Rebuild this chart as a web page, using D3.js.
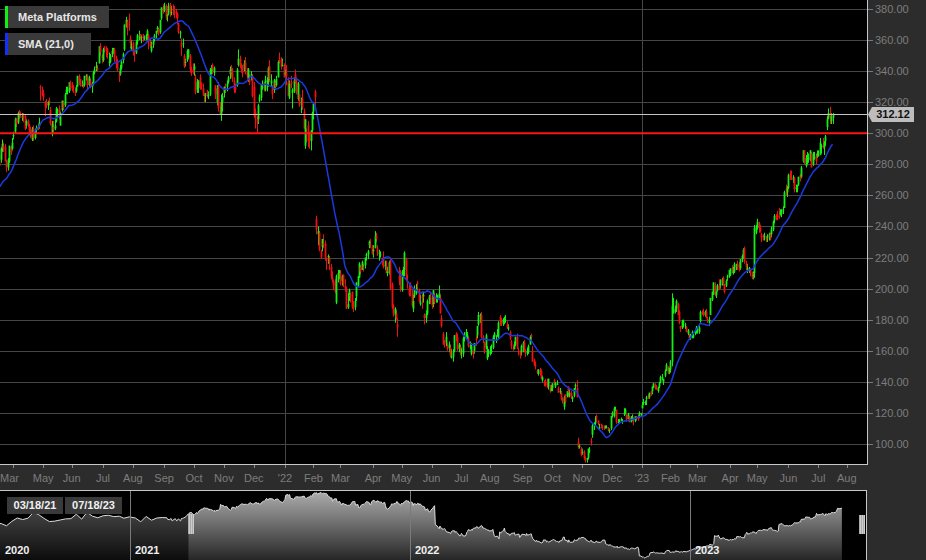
<!DOCTYPE html>
<html><head><meta charset="utf-8">
<script src="https://cdn.jsdelivr.net/npm/d3@7"></script>
<style>
html,body{margin:0;padding:0;background:#2c2c2c;}
svg{display:block;font-family:"Liberation Sans",Arial,sans-serif;}
</style></head><body>
<svg id="chart" width="926" height="560"></svg>
<script>
// ---------------- DATA ----------------
const seriesName = "Meta Platforms";
const smaLabel = "SMA (21,0)";
const smaPeriod = 21;
const alertLevel = 300;
const firstDate = "2021-02-18";          // first warm-up trading day (SMA history)
const holidays = ["2021-04-02","2021-05-31","2021-07-05","2021-09-06","2021-11-25","2021-12-24",
  "2022-01-17","2022-02-21","2022-04-15","2022-05-30","2022-06-20","2022-07-04","2022-09-05",
  "2022-11-24","2022-12-26","2023-01-02","2023-01-16","2023-02-20","2023-04-07","2023-05-29",
  "2023-06-19","2023-07-04","2023-09-04"];
const warmupCloses = [269,262,260,266,264,255,258,265,259,255,258,264,255,266,265,268,268,274,279,284];

// daily bars 03/18/21 .. 07/18/23 (one line per month)
const opens = [
286,283,290,292,291,282,278,282,291,290,
298,301,309,307,314,313,310,312,311,305,308,305,302,296,303,297,302,304,305,330,327,
326,320,319,318,321,315,300,304,303,308,314,316,305,315,320,318,326,328,327,333,
330,330,327,327,330,337,335,331,332,331,336,337,331,334,330,332,339,342,342,345,356,350,
347,356,355,354,346,346,351,352,354,348,346,338,338,342,347,354,369,372,374,361,354,
358,353,352,359,362,364,362,363,361,362,364,363,358,353,357,361,364,367,367,365,374,381,
379,382,376,377,383,378,380,379,378,377,371,365,358,358,350,346,347,349,350,341,341,
341,336,328,329,336,332,329,325,324,326,324,325,340,344,339,331,320,330,315,312,320,
326,329,330,333,338,340,339,334,330,331,344,348,343,341,341,346,340,336,335,336,337,
330,314,310,309,321,323,329,333,328,333,334,343,332,329,328,333,331,336,347,347,344,344,
338,339,333,323,333,326,327,338,333,322,325,320,322,314,292,301,305,300,295,302,
314,327,245,235,236,224,227,229,229,219,221,220,214,207,204,205,191,208,209,
210,205,209,202,200,188,195,196,198,188,188,195,202,207,214,212,214,215,221,222,228,229,227,
224,226,234,226,223,222,219,220,215,215,210,210,218,203,189,183,184,177,208,201,
199,211,212,219,205,200,202,197,187,195,197,204,199,190,195,195,183,181,184,193,195,
194,190,196,194,193,194,194,181,171,165,165,163,162,162,156,156,160,171,169,161,162,
160,158,168,170,168,168,163,158,160,160,168,170,177,182,183,169,165,162,155,159,
158,159,162,169,167,170,169,182,180,178,178,180,177,175,172,166,162,161,164,169,160,160,159,
162,165,160,158,159,164,170,160,154,151,147,145,147,147,141,140,139,140,137,138,134,
136,141,137,138,136,134,133,129,124,132,131,137,131,133,129,131,137,136,101,98,97,
95,95,91,90,91,96,102,106,112,113,118,115,110,113,112,111,110,111,110,109,110,
118,118,122,122,114,115,115,115,119,120,119,116,118,114,117,116,115,118,117,117,119,
123,127,127,129,131,130,134,134,136,138,137,134,137,140,143,140,144,147,150,146,
148,153,184,185,187,190,185,176,175,178,177,175,171,170,168,171,169,172,172,
174,172,179,185,185,183,185,181,178,183,193,196,202,196,199,202,202,204,207,203,202,207,208,
209,213,210,211,214,215,216,213,219,222,226,216,213,213,212,210,208,210,236,
239,242,239,235,234,233,233,233,233,235,235,238,244,247,247,247,248,248,251,252,264,262,
265,274,272,270,271,264,265,267,273,272,282,289,279,285,283,283,287,280,284,285,285,
286,286,291,292,291,295,304,310,313,308,310];
const highs = [
287,291,296,294,293,283,284,292,292,297,
301,310,310,314,315,314,313,313,312,309,309,306,304,304,305,303,305,306,310,331,330,
328,321,322,321,323,317,308,308,309,317,316,318,314,321,321,326,330,330,333,334,
333,331,329,331,337,338,335,334,332,337,338,338,337,335,333,340,343,346,344,356,358,351,
355,356,356,355,352,351,355,355,355,350,348,340,344,347,352,370,375,373,377,363,360,
359,354,360,364,366,364,363,364,363,364,367,364,361,359,361,364,366,369,368,373,381,383,
384,383,377,384,384,382,383,382,380,378,371,366,361,361,351,348,354,354,351,343,345,
345,338,335,334,338,333,332,326,326,328,327,342,344,345,343,331,331,333,320,325,326,
330,332,334,337,343,344,342,336,332,342,354,350,345,344,347,349,342,342,338,340,338,
333,316,311,319,325,331,334,333,337,336,343,347,338,331,335,334,337,347,352,349,348,345,
341,344,336,334,337,329,336,341,336,333,325,323,328,316,309,303,308,301,302,314,
320,328,247,240,237,225,232,235,231,220,222,221,216,211,206,206,209,212,212,
212,209,209,206,201,197,200,197,198,192,194,204,208,217,215,218,216,220,223,225,231,232,228,
228,237,236,228,225,224,220,224,218,218,214,218,219,204,190,188,186,181,214,212,
212,214,224,220,209,203,204,199,196,202,203,205,200,196,197,198,184,186,193,196,197,
196,199,197,197,196,202,196,183,172,167,172,165,166,164,161,161,170,172,171,165,164,
162,169,172,174,172,169,166,165,160,165,170,176,185,184,185,170,166,171,163,161,
163,164,170,172,170,174,179,183,181,181,182,183,179,177,173,167,164,166,169,171,162,160,164,
166,167,161,162,164,170,171,163,155,153,148,148,149,148,144,141,142,142,142,138,138,
139,142,140,141,137,136,134,130,131,132,134,137,135,134,131,136,139,141,104,100,98,
97,96,92,91,97,98,104,113,114,118,119,115,113,113,112,112,112,112,111,110,118,
121,124,124,122,116,116,117,116,123,123,119,120,118,118,119,117,118,118,119,121,120,
127,129,128,131,132,133,134,137,139,139,138,137,140,144,145,142,148,152,150,149,
154,197,194,189,193,191,186,176,180,180,178,176,174,171,171,173,171,173,176,
175,176,186,186,187,186,187,182,182,194,198,204,204,199,203,206,206,207,208,203,206,209,212,
213,215,214,217,216,218,217,219,222,226,227,218,216,214,213,211,211,241,241,
245,243,241,236,235,236,234,235,236,236,240,244,248,248,250,252,251,251,253,263,267,266,
274,276,276,273,272,267,267,272,274,279,289,289,286,288,287,289,288,288,288,287,289,
289,297,293,297,295,299,311,316,317,313,313];
const lows = [
277,281,288,288,282,275,276,281,286,289,
296,300,304,306,309,310,308,307,302,303,304,300,297,295,295,296,300,302,303,321,324,
321,311,316,315,318,305,298,301,302,307,310,309,305,314,315,317,325,325,326,328,
327,326,324,326,330,331,330,330,329,330,334,328,330,329,326,331,338,340,340,345,350,345,
346,352,349,348,343,345,349,351,346,342,340,333,337,341,345,353,368,363,366,355,353,
350,346,351,357,360,360,358,359,360,360,360,354,355,352,355,359,361,365,363,364,373,377,
378,373,372,376,375,376,376,374,374,370,364,361,350,355,342,343,346,348,339,337,338,
337,325,326,326,328,328,324,320,320,323,322,324,338,338,337,322,318,314,312,308,314,
323,326,327,332,335,336,333,326,326,330,343,342,339,336,340,338,335,333,331,334,323,
310,303,300,306,320,321,328,327,327,327,330,333,330,322,326,328,330,336,345,341,343,336,
337,331,324,322,329,316,326,332,325,321,317,313,315,303,290,294,291,290,289,300,
309,318,235,228,224,219,224,226,218,212,216,212,206,204,199,197,190,204,206,
202,202,201,198,187,187,192,191,187,185,186,192,201,207,209,212,211,213,218,219,226,226,222,
220,226,230,221,218,220,215,213,212,210,208,209,199,187,182,178,180,169,202,198,
198,207,208,205,200,195,195,188,185,194,196,199,191,189,187,191,177,178,183,190,190,
187,188,190,191,191,194,184,175,164,162,163,160,159,156,155,153,159,166,160,159,157,
155,156,166,169,167,162,161,157,155,158,163,168,176,178,168,165,158,161,154,156,
157,158,161,167,165,169,168,176,176,176,177,178,174,173,167,161,160,161,163,161,157,155,157,
159,159,156,157,158,164,167,153,150,148,145,144,144,142,140,137,137,136,135,133,134,
134,138,136,138,133,132,128,126,122,126,130,130,130,129,127,130,135,130,97,97,92,
93,90,88,88,90,94,99,104,109,112,114,112,109,110,109,109,110,110,108,107,109,
117,117,121,113,113,113,115,113,118,119,115,116,114,114,115,112,114,115,115,117,118,
123,125,125,125,129,129,131,132,136,135,135,133,136,139,141,138,143,147,145,145,
146,150,184,184,185,183,177,172,174,175,174,172,170,167,167,168,168,170,171,
171,171,178,183,182,182,181,178,176,183,192,196,195,194,198,199,200,202,202,197,201,205,207,
208,210,209,210,212,212,211,212,217,219,216,212,210,210,208,206,206,207,235,
238,236,236,230,231,231,230,230,231,231,233,237,242,244,244,245,247,246,248,252,260,259,
264,270,270,268,262,262,262,266,269,271,281,280,278,280,281,282,278,279,283,280,284,
285,286,287,290,286,292,302,309,306,306,306];
const closes = [
279,290,293,290,282,278,283,292,288,294,
299,309,306,313,313,312,311,310,303,308,306,302,298,303,297,301,303,303,307,329,325,
323,317,318,320,320,306,306,302,305,316,315,310,313,321,316,325,328,328,333,329,
329,329,326,330,337,334,331,331,331,337,337,331,336,330,332,339,341,343,341,356,352,348,
354,355,353,351,346,350,353,352,348,345,341,337,342,346,351,370,373,368,373,358,356,
352,351,359,363,363,362,362,362,362,363,366,358,356,356,359,363,366,368,364,373,381,379,
382,375,376,382,378,378,379,377,377,374,365,365,356,358,343,346,353,354,341,340,339,
343,326,333,334,329,330,325,324,325,325,325,341,342,341,342,325,329,316,312,317,324,
330,328,332,336,341,339,335,328,328,341,348,343,341,339,345,341,337,341,333,338,324,
311,310,307,318,323,331,330,330,334,334,342,335,334,325,334,330,335,346,346,343,344,336,
339,337,324,332,332,328,334,333,326,332,318,320,317,303,309,300,295,295,302,313,
319,323,238,237,225,220,232,228,220,218,221,217,208,206,202,198,208,210,211,
203,208,203,200,187,190,199,195,188,187,192,204,208,216,211,217,213,220,222,224,230,228,222,
225,234,232,223,223,222,216,214,215,210,211,217,200,188,184,187,181,175,206,200,
211,212,223,208,204,196,198,189,192,199,200,203,192,191,194,196,181,184,192,195,194,
189,199,191,194,196,197,184,176,164,164,169,161,164,157,156,159,170,169,161,164,161,
160,168,170,172,170,163,163,163,158,165,167,176,183,183,169,167,159,170,161,159,
160,160,169,171,167,170,178,178,177,180,181,180,175,175,168,163,161,163,169,162,159,157,163,
165,160,159,160,163,169,169,153,151,150,146,148,146,142,143,139,138,137,142,134,136,
139,140,139,139,133,134,129,128,130,127,134,133,133,130,130,136,138,130,98,99,93,
95,91,89,91,97,96,101,112,113,114,117,113,111,112,111,110,111,111,109,109,118,
120,123,122,114,114,115,116,115,120,122,116,119,114,117,117,115,118,117,116,120,120,
125,127,127,130,129,133,133,137,139,137,135,136,139,143,143,142,147,151,146,149,
153,189,187,186,192,183,178,174,179,179,177,172,173,168,170,172,170,172,175,
174,175,185,184,183,185,181,180,180,194,198,204,196,198,202,200,204,206,203,198,205,208,212,
213,212,211,216,215,214,212,219,221,225,217,214,213,213,210,207,209,239,240,
243,239,237,233,233,234,232,233,235,233,238,243,247,246,246,246,249,251,251,262,263,265,
273,272,271,271,264,265,265,272,271,278,289,281,284,285,284,289,278,287,285,282,287,
286,294,292,291,294,298,309,313,309,311,312.12];

const yTicks = [100,120,140,160,180,200,220,240,260,280,300,320,340,360,380];
const monthNames = ["'","Feb","Mar","Apr","May","Jun","Jul","Aug","Sep","Oct","Nov","Dec"];

// navigator history before the main window (weekly closes)
const navPreDates = ["2020-07-10","2020-07-17","2020-07-24","2020-07-31","2020-08-07","2020-08-14","2020-08-21",
  "2020-08-28","2020-09-04","2020-09-11","2020-09-18","2020-09-25","2020-10-02","2020-10-09","2020-10-16",
  "2020-10-23","2020-10-30","2020-11-06","2020-11-13","2020-11-20","2020-11-27","2020-12-04","2020-12-11",
  "2020-12-18","2020-12-24","2020-12-31","2021-01-08","2021-01-15","2021-01-22","2021-01-29","2021-02-05","2021-02-12"];
const navPreCloses = [245,243,233,253,268,261,267,293,283,266,252,254,259,264,265,285,263,294,276,269,278,280,274,276,267,273,268,251,275,258,268,270];
const navYears = ["2020","2021","2022","2023"];
const rangeLabels = ["03/18/21","07/18/23"];

// ---------------- SETUP ----------------
const C = {green:"#12f012", red:"#f01010", sma:"#1a3ae0", grid:"#464646", axisText:"#7d7d7d",
           border:"#c8c8cc", panel:"#2c2c2c"};
const svg = d3.select("#chart");
const parse = s => new Date(s + "T00:00:00Z");
const hol = new Set(holidays);
const off = warmupCloses.length;
const n = Math.min(opens.length, highs.length, lows.length, closes.length);
const allDates = [];
for (let d = parse(firstDate); allDates.length < off + n + 60; d = new Date(d.getTime() + 86400000)) {
  const wd = d.getUTCDay(), key = d.toISOString().slice(0,10);
  if (wd === 0 || wd === 6 || hol.has(key)) continue;
  allDates.push(d);
}
const bars = d3.range(n).map(i => ({i, date: allDates[off+i], o: opens[i], h: highs[i], l: lows[i], c: closes[i]}));
const allCloses = warmupCloses.concat(closes.slice(0, n));
const sma = bars.map(b => ({i: b.i, v: d3.mean(allCloses.slice(b.i + off - smaPeriod + 1, b.i + off + 1))}));

const PW = 868, PH = 464;
const x = d3.scaleLinear().domain([0.6, 610.9]).range([0, PW]);
const y = d3.scaleLinear().domain([87.1, 385.8]).range([PH, 0]);

svg.append("rect").attr("width", 926).attr("height", 560).attr("fill", C.panel);
svg.append("rect").attr("width", PW).attr("height", PH).attr("fill", "#000");
const defs = svg.append("defs");
defs.append("clipPath").attr("id", "plotClip").append("rect").attr("width", PW - 1).attr("height", PH);

const plot = svg.append("g").attr("clip-path", "url(#plotClip)");

// horizontal grid
plot.selectAll(".hg").data(yTicks).join("line")
  .attr("x1", 0).attr("x2", PW).attr("y1", d => Math.round(y(d)) + 0.5).attr("y2", d => Math.round(y(d)) + 0.5)
  .attr("stroke", C.grid).attr("stroke-width", 1);

// month starts (global indices)
const monthStarts = [];
for (let g = 1; g < allDates.length; g++) {
  if (allDates[g].getUTCMonth() !== allDates[g-1].getUTCMonth()) monthStarts.push({g, date: allDates[g]});
}
monthStarts.forEach(m => { m.i = m.g - off; m.x = x(m.i); });
// year grid lines
plot.selectAll(".vg").data(monthStarts.filter(m => m.date.getUTCMonth() === 0 && m.x > 0 && m.x < PW)).join("line")
  .attr("x1", d => Math.round(d.x) + 0.5).attr("x2", d => Math.round(d.x) + 0.5).attr("y1", 0).attr("y2", PH)
  .attr("stroke", C.grid).attr("stroke-width", 1);

// candles
const cg = plot.append("g");
cg.selectAll(".wick").data(bars).join("rect")
  .attr("x", d => Math.round(x(d.i))).attr("width", 1)
  .attr("y", d => y(d.h)).attr("height", d => Math.max(1, y(d.l) - y(d.h)))
  .attr("fill", d => d.c >= d.o ? C.green : C.red);
cg.selectAll(".body").data(bars).join("rect")
  .attr("x", d => Math.round(x(d.i)) - 0.4).attr("width", 1.8)
  .attr("y", d => y(Math.max(d.o, d.c))).attr("height", d => Math.max(1, Math.abs(y(d.o) - y(d.c))))
  .attr("fill", d => d.c >= d.o ? C.green : C.red);

// SMA
plot.append("path").datum(sma)
  .attr("d", d3.line().x(d => x(d.i)).y(d => y(d.v)))
  .attr("fill", "none").attr("stroke", C.sma).attr("stroke-width", 1.5);

// last price line and alert line
const last = bars[bars.length - 1].c;
plot.append("line").attr("x1", 0).attr("x2", PW).attr("y1", Math.round(y(last)) + 0.5).attr("y2", Math.round(y(last)) + 0.5)
  .attr("stroke", "#c4c4c4").attr("stroke-width", 1);
plot.append("line").attr("x1", 0).attr("x2", PW).attr("y1", y(alertLevel)).attr("y2", y(alertLevel))
  .attr("stroke", "#ff1414").attr("stroke-width", 2);

// borders
svg.append("line").attr("x1", PW - 0.5).attr("x2", PW - 0.5).attr("y1", 0).attr("y2", PH + 1).attr("stroke", C.border);
svg.append("line").attr("x1", 0).attr("x2", PW).attr("y1", PH + 0.5).attr("y2", PH + 0.5).attr("stroke", C.border);

// right axis
const ra = svg.append("g");
ra.selectAll("line").data(yTicks).join("line")
  .attr("x1", PW).attr("x2", PW + 5).attr("y1", d => Math.round(y(d)) + 0.5).attr("y2", d => Math.round(y(d)) + 0.5)
  .attr("stroke", "#777");
ra.selectAll("text").data(yTicks).join("text")
  .attr("x", PW + 7).attr("y", d => y(d)).attr("dy", "0.36em")
  .attr("font-size", 11).attr("fill", C.axisText).text(d => d3.format(".2f")(d));

// price tag
const yp = Math.round(y(last)) + 0.5;
svg.append("path")
  .attr("d", `M${PW},${yp} L${PW+4},${yp-7.5} L${PW+46},${yp-7.5} L${PW+46},${yp+7.5} L${PW+4},${yp+7.5} Z`)
  .attr("fill", "#bdbdbd");
svg.append("text").attr("x", PW + 25).attr("y", yp).attr("dy", "0.36em").attr("text-anchor", "middle")
  .attr("font-size", 11).attr("font-weight", "bold").attr("fill", "#111").text(d3.format(".2f")(last));

// bottom axis: ticks + labels
const ticksIn = monthStarts.filter(m => m.x >= 0 && m.x <= PW);
svg.selectAll(".mt").data(ticksIn).join("line")
  .attr("x1", d => Math.round(d.x) + 0.5).attr("x2", d => Math.round(d.x) + 0.5).attr("y1", PH + 1).attr("y2", PH + 4)
  .attr("stroke", "#888");
const labG = svg.append("g").attr("font-size", 11).attr("fill", C.axisText);
let lastRight = -1e9;
monthStarts.forEach((m, k) => {
  const next = monthStarts[k + 1];
  if (m.x > PW || (next && next.x < 0)) return;
  const mo = m.date.getUTCMonth();
  const txt = mo === 0 ? "'" + String(m.date.getUTCFullYear()).slice(2) : monthNames[mo];
  const t = labG.append("text").attr("y", PH + 18).attr("text-anchor", "middle").text(txt);
  const w = t.node().getComputedTextLength();
  let cx = Math.max(m.x, w / 2);
  if (cx - w / 2 < lastRight + 4) { t.remove(); return; }
  t.attr("x", cx);
  lastRight = cx + w / 2;
});

// legend
const leg = svg.append("g");
[[seriesName, C.green, 7, 104], [smaLabel, "#1030ff", 34, 86]].forEach(([txt, col, yy, w]) => {
  leg.append("rect").attr("x", 5).attr("y", yy - 1).attr("width", w).attr("height", 22).attr("fill", "#3a3a3a");
  leg.append("rect").attr("x", 5).attr("y", yy - 1).attr("width", 3).attr("height", 22).attr("fill", col);
  leg.append("text").attr("x", 18).attr("y", yy + 10).attr("dy", "0.36em").attr("font-size", 11)
    .attr("font-weight", "bold").attr("fill", "#e6e6e6").text(txt);
});

// ---------------- NAVIGATOR ----------------
const NT = 490, NB = 560, NR = 867;
svg.append("rect").attr("x", 0).attr("y", NT).attr("width", NR).attr("height", NB - NT).attr("fill", "#000");
const navX = d3.scaleTime().domain([parse("2021-01-01"), parse("2023-01-01")]).range([130, 690]);
const navPts = navPreDates.map((d, k) => ({d: parse(d), v: navPreCloses[k]}))
  .concat(warmupCloses.map((v, k) => ({d: allDates[k], v})))
  .concat(bars.map(b => ({d: b.date, v: b.c})));
const navY = d3.scaleLinear().domain(d3.extent(navPts, p => p.v)).range([558, 492.5]);

const gDim = defs.append("linearGradient").attr("id", "gDim").attr("gradientUnits", "userSpaceOnUse")
  .attr("x1", 0).attr("x2", 0).attr("y1", NT).attr("y2", NB);
gDim.append("stop").attr("offset", 0).attr("stop-color", "#5a5a5a");
gDim.append("stop").attr("offset", 1).attr("stop-color", "#0c0c0c");
const gBri = defs.append("linearGradient").attr("id", "gBri").attr("gradientUnits", "userSpaceOnUse")
  .attr("x1", 0).attr("x2", 0).attr("y1", NT).attr("y2", NB);
gBri.append("stop").attr("offset", 0).attr("stop-color", "#b0b0b0");
gBri.append("stop").attr("offset", 1).attr("stop-color", "#262626");

const selX0 = navX(bars[0].date);
const endG = Math.min(allDates.length - 1, off + Math.floor(x.domain()[1]));
const selX1 = Math.min(navX(allDates[endG]), NR - 5);
defs.append("clipPath").attr("id", "cDim").append("rect").attr("x", 0).attr("y", NT).attr("width", selX0).attr("height", NB - NT);
defs.append("clipPath").attr("id", "cBri").append("rect").attr("x", selX0).attr("y", NT).attr("width", NR - selX0).attr("height", NB - NT);
defs.append("clipPath").attr("id", "cNav").append("rect").attr("x", 0).attr("y", NT).attr("width", NR).attr("height", NB - NT);

const area = d3.area().x(p => navX(p.d)).y0(NB).y1(p => navY(p.v));
svg.append("path").datum(navPts).attr("d", area).attr("fill", "url(#gDim)").attr("clip-path", "url(#cDim)");
svg.append("path").datum(navPts).attr("d", area).attr("fill", "url(#gBri)").attr("clip-path", "url(#cBri)");
svg.append("path").datum(navPts).attr("d", d3.line().x(p => navX(p.d)).y(p => navY(p.v)))
  .attr("fill", "none").attr("stroke", "#dcdcdc").attr("stroke-width", 1).attr("clip-path", "url(#cNav)");

// year dividers + labels
navYears.forEach((yr, k) => {
  const xx = k === 0 ? 0 : navX(parse(yr + "-01-01"));
  if (k > 0) svg.append("line").attr("x1", Math.round(xx) + 0.5).attr("x2", Math.round(xx) + 0.5)
    .attr("y1", NT).attr("y2", NB).attr("stroke", "#7a7a7a");
  svg.append("text").attr("x", xx + 5).attr("y", 554).attr("font-size", 11).attr("font-weight", "bold")
    .attr("fill", "#f0f0f0").text(yr);
});

// range date boxes
[[rangeLabels[0], 7, 56], [rangeLabels[1], 65, 57]].forEach(([t, bx, bw]) => {
  svg.append("rect").attr("x", bx).attr("y", 497).attr("width", bw).attr("height", 17).attr("fill", "#3a3a3a");
  svg.append("text").attr("x", bx + bw / 2).attr("y", 505.5).attr("dy", "0.36em").attr("text-anchor", "middle")
    .attr("font-size", 11).attr("font-weight", "bold").attr("fill", "#f0f0f0").text(t);
});

// handles
[[selX0, 514, 20], [selX1 - 3, 515, 19]].forEach(([hx, hy, hh]) => {
  const bx = Math.round(hx);
  svg.append("rect").attr("x", bx).attr("y", hy).attr("width", 6).attr("height", hh).attr("fill", "#555");
  [0, 2, 4].forEach(dx => svg.append("rect").attr("x", bx + dx + 0.5).attr("y", hy).attr("width", 1.2).attr("height", hh).attr("fill", "#fff"));
});

// navigator borders
svg.append("line").attr("x1", 0).attr("x2", NR).attr("y1", NT + 0.5).attr("y2", NT + 0.5).attr("stroke", C.border);
svg.append("line").attr("x1", NR - 0.5).attr("x2", NR - 0.5).attr("y1", NT).attr("y2", NB).attr("stroke", C.border);
</script>
</body></html>
